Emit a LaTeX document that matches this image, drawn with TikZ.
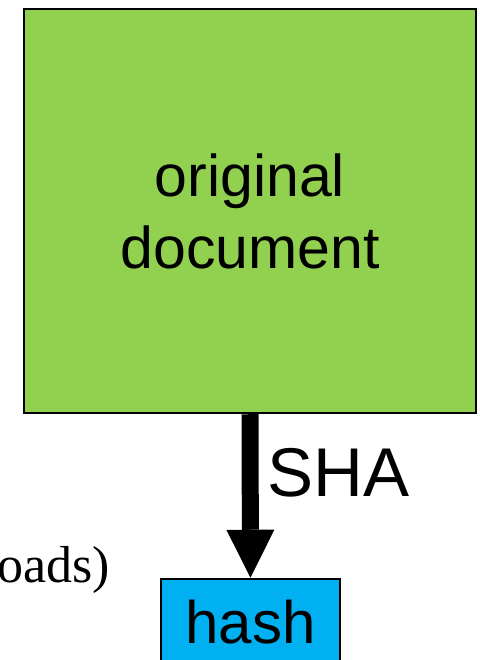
\documentclass[tikz,border=0pt]{standalone}
\usepackage{fontspec}
\setmainfont{Liberation Sans}
\newfontfamily\serifx{Liberation Serif}
\usetikzlibrary{arrows.meta}
\definecolor{docgreen}{HTML}{92D050}
\definecolor{hashblue}{HTML}{00B0F0}
\tikzset{
  box/.style={draw=black, line width=2.5pt, inner sep=0pt},
  bigarrow/.style={line width=17pt, -{Triangle[width=48pt,length=48pt,line width=0pt]}},
}
\begin{document}
\begin{tikzpicture}[x=1pt,y=1pt]
\useasboundingbox (0,0) rectangle (479,660);
\node[box, fill=docgreen, minimum width=452pt, minimum height=404pt, align=center,
      font=\fontsize{59}{72}\selectfont] (doc) at (250,449) {original\\document};
\node[box, fill=hashblue, minimum width=179pt, minimum height=86pt,
      font=\fontsize{60}{72}\selectfont] (hash) at (250.5,38) {hash};
\draw[bigarrow] (doc.south) -- (hash.north);
\node[anchor=base west, inner sep=0pt, font=\fontsize{69}{80}\selectfont] (sha) at (267,163) {SHA};
\node[anchor=base east, inner sep=0pt, font=\serifx\fontsize{52}{60}\selectfont] (loads) at (110,77) {oads)};
\end{tikzpicture}
\end{document}
